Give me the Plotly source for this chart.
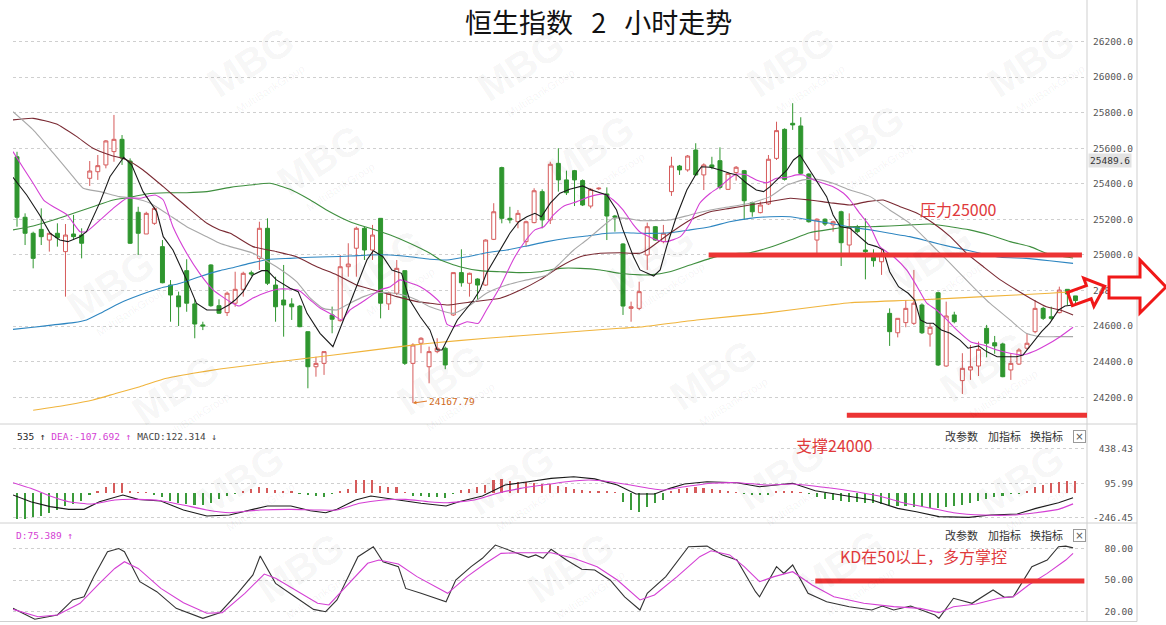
import math
import plotly.graph_objects as go

# ---------------- data ----------------
OPEN = [25552,25212,25122,25144,25084,25122,25019,25118,25112,25431,
        25468,25506,25581,25650,25528,25240,25118,25178,25047,24831,
        24770,24912,24725,24607,24944,24715,24676,24729,24807,24900,
        24981,25150,24831,24747,24725,24713,24569,24372,24391,24663,
        24631,24934,25038,25150,25028,25206,24725,24785,24912,24391,
        24504,24372,24457,24476,24663,24901,24841,24865,24831,25088,
        25491,25206,25187,25075,25182,25356,25197,25515,25422,25474,
        25418,25275,25372,25343,25219,25062,24700,24700,25000,25159,
        25075,25356,25500,25478,25590,25450,25506,25530,25369,25463,
        25474,25294,25238,25287,25543,25706,25740,25725,25455,25084,
        25201,25169,25243,25056,25159,25028,24990,24962,24672,24563,
        24620,24616,24719,24556,24788,24376,24663,24294,24354,24376,
        24588,24507,24500,24354,24387,24476,24569,24700,24653,24676,
        24807,24770]
HIGH = [25580,25234,25131,25262,25122,25178,25174,25225,25150,25528,
        25562,25646,25787,25674,25543,25271,25243,25271,25084,24859,
        24794,24976,24751,24625,24948,24751,24794,24906,24906,24912,
        25187,25206,24878,24944,24757,24719,24569,24428,24457,24710,
        25000,25066,25159,25159,25169,25206,24794,24972,24912,24504,
        24538,24485,24532,24485,24901,25032,24901,24869,25088,25291,
        25496,25271,25253,25193,25375,25369,25524,25600,25474,25478,
        25425,25375,25380,25380,25225,25066,24738,24850,25182,25163,
        25169,25552,25506,25562,25628,25515,25552,25605,25463,25500,
        25478,25300,25300,25562,25749,25712,25853,25774,25459,25206,
        25206,25193,25249,25234,25169,25206,25032,25032,24700,24644,
        24747,24916,24728,24616,24794,24738,24681,24448,24494,24513,
        24607,24545,24507,24448,24476,24560,24747,24709,24709,24822,
        24807,24770]
LOW = [25159,25056,24925,25056,25019,25047,24766,25084,24981,25388,
       25422,25487,25524,25506,25062,25000,25118,25169,24841,24625,
       24601,24681,24532,24578,24709,24670,24657,24709,24766,24882,
       24916,24831,24625,24541,24635,24594,24251,24316,24326,24560,
       24625,24878,24878,24972,24972,24644,24691,24775,24382,24167.79,
       24448,24279,24448,24358,24657,24822,24766,24747,24826,25084,
       25178,25178,25150,25047,25178,25150,25174,25356,25337,25275,
       25275,25262,25365,25084,25131,24663,24625,24690,24916,25080,
       25066,25332,25450,25468,25444,25365,25482,25369,25365,25418,
       25197,25215,25234,25281,25534,25418,25703,25450,25182,25009,
       25163,25131,24938,25009,25122,24863,24934,24888,24489,24537,
       24594,24607,24556,24485,24376,24372,24616,24219,24298,24320,
       24425,24445,24313,24298,24382,24466,24560,24635,24635,24672,
       24719,24728]
CLOSE = [25212,25122,24981,25103,25122,25097,25112,25103,25066,25472,
         25502,25641,25650,25545,25066,25122,25234,25262,24844,24775,
         24709,24729,24612,24601,24715,24673,24785,24807,24897,24893,
         25150,24841,24709,24719,24709,24597,24372,24391,24457,24639,
         24934,24949,25150,25028,25112,24729,24785,24925,24391,24494,
         24532,24457,24476,24382,24901,24844,24897,24831,25084,25243,
         25206,25197,25234,25187,25361,25197,25510,25422,25350,25422,
         25281,25369,25375,25219,25212,24713,24709,24794,25159,25084,
         25122,25500,25478,25556,25450,25506,25493,25380,25459,25493,
         25305,25243,25281,25538,25699,25425,25731,25459,25187,25201,
         25174,25187,25069,25159,25131,25019,24968,25009,24569,24644,
         24700,24729,24563,24594,24382,24657,24625,24363,24372,24470,
         24504,24489,24316,24391,24466,24504,24700,24644,24644,24803,
         24781,24744]
IDX = list(range(len(CLOSE)))

MA5_X = [-0.5,1.2,2.8,4.1,5.3,6.3,7.8,8.6,10.3,11.5,13.2,14.2,15.6,17.3,18.1,19.3,21,22.2,23.5,25.1,
         26.2,27,28,29.2,30.3,31,32.1,33.8,34.8,35.9,37.5,39.1,40.4,42,43.3,44.1,45.3,46.4,47.6,48.6,
         49.9,51.1,52,52.6,54.5,56.5,57.3,58.1,59.8,61,62.1,63.1,64.1,64.9,66,67.2,68.4,70,71.1,73,
         74.2,75,76.3,77.1,78.8,79.6,80.4,81.6,82.9,84.1,84.7,85.8,87,88.2,89.1,90.3,91.5,92.4,93.2,94.2,
         95.3,96.1,96.9,97.7,98.9,100.2,101,101.9,103.1,104.3,105.3,106.4,107.2,108,109.1,110.3,111.1,111.8,112.6,113.4,
         114.4,115.5,116.7,117.7,119,120,121.3,122.5,123.7,124.5,125.6,126.8,127.8,128.9,129.7,130.7]
MA5_V = [25437,25337,25225,25122,25084,25075,25103,25131,25300,25440,25549,25506,25356,25243,25103,25028,24860,24729,24691,24691,
         24719,24747,24794,24888,24912,24912,24860,24813,24794,24672,24560,24485,24635,24822,24972,25024,24990,24916,24897,24747,
         24653,24579,24466,24466,24635,24747,24803,24897,25028,25122,25187,25215,25234,25215,25291,25347,25369,25388,25365,25337,
         25253,25141,24990,24916,24882,24916,25047,25215,25365,25459,25496,25493,25478,25459,25450,25403,25365,25356,25384,25431,
         25478,25534,25562,25506,25422,25328,25225,25159,25150,25103,25062,25047,25028,24906,24822,24785,24747,24635,24616,24616,
         24579,24560,24522,24476,24489,24457,24428,24428,24428,24438,24504,24569,24616,24691,24713,24719]

MA10_X = [-0.5,0.8,2,3.3,4.5,6.2,7.8,8.6,10.3,11.9,13.6,15.2,17.1,18.1,19.3,21,22.6,24.3,26.4,27.5,
          29.2,31,32.5,34.8,36.3,37.5,39.1,40.2,41.2,42.5,43.7,44.9,46.2,47.4,48.6,49.9,51.1,52.4,53.2,54,
          55.7,57.1,58.1,59.8,61.4,62.7,64.1,65.2,66.4,67.7,69.3,70.9,72.6,73.8,75,76.3,77.1,79.2,80.4,82.1,
          83.3,84.5,85.8,87,88.2,89.1,90.3,91.5,92.8,94,95.3,96.5,97.3,98.6,99.8,101,102.3,103.1,104.3,105.6,
          106.8,108.5,110.1,111.4,112.6,113.8,115.1,116.3,118,119.6,121.3,122.9,124.5,125.8,127.4,129.1,130.7]
MA10_V = [25581,25487,25403,25309,25271,25225,25131,25131,25197,25262,25319,25319,25337,25309,25159,25010,24897,24803,24736,24713,
          24758,24792,24809,24803,24747,24702,24663,24635,24691,24729,24766,24803,24822,24860,24844,24822,24785,24729,24612,24597,
          24625,24616,24691,24822,24972,25066,25141,25159,25225,25275,25300,25328,25343,25309,25253,25169,25129,25084,25075,25103,
          25178,25291,25347,25384,25431,25455,25450,25422,25406,25431,25437,25450,25450,25422,25403,25384,25347,25309,25234,25159,
          25047,24990,24916,24822,24729,24691,24635,24579,24513,24494,24466,24448,24438,24457,24494,24541,24594]

MA20_X = [-0.5,2,4.5,6.6,8.2,10.3,12.7,14.4,16.5,18.5,21,23.5,25.1,26.4,29.2,32.1,34.6,36.3,37.9,39.6,
          41.2,42.9,44.5,46.2,47.8,49.5,51.1,54,56.1,58.1,60.6,63.1,65.6,67.2,68.9,70.5,72.2,73.8,75.5,77.1,
          78.3,80.8,83.3,85.8,88.2,90.7,93.2,95.3,97.3,99,101,103.1,105.6,108,110.5,113,115.5,117.9,120.4,122.9,
          124.9,126.6,128.7,130.7]
MA20_V = [25805,25703,25572,25459,25375,25356,25328,25319,25291,25234,25159,25103,25066,25047,25010,24934,24850,24757,24700,24691,
          24729,24766,24788,24788,24775,24747,24709,24672,24719,24785,24831,24860,24888,24953,25028,25084,25150,25206,25206,25193,
          25193,25197,25225,25253,25271,25291,25328,25393,25422,25425,25403,25365,25328,25253,25178,25066,24953,24841,24729,24635,
          24560,24541,24541,24541]

MA30_X = [-0.5,2,4.9,7.4,9.4,11.5,13.6,15.6,18.1,21,23.5,25.1,26.4,29.2,32.1,34.6,37.1,39.6,42,44.5,
          47,49.5,51.1,53.2,56.5,59.8,62.3,64.7,67.2,69.7,72.2,74.6,77.1,78.3,80.8,83.3,85.8,88.2,90.7,93.2,
          95.7,98.1,100.6,103.1,105.2,107.2,109.3,111.4,113.4,115.5,117.5,119.6,121.7,123.7,125.4,127.4,129.1,130.7]
MA30_V = [25759,25768,25736,25665,25600,25562,25534,25478,25384,25271,25178,25141,25122,25047,25019,24990,24934,24888,24831,24799,
          24766,24738,24729,24719,24738,24757,24803,24860,24934,24990,25010,25013,25010,25038,25122,25197,25243,25262,25281,25300,
          25319,25309,25294,25281,25300,25309,25271,25234,25178,25103,25010,24934,24860,24803,24757,24709,24691,24663]

MA60_X = [-0.5,2,4.5,7,9.4,11.9,14,16,18.5,21,23.5,26.4,28.8,31.3,33.8,36.3,38.7,41.2,43.7,46.2,
          48.6,51.1,52.4,54.8,57.3,59.8,62.3,64.7,67.2,69.7,72.2,74.6,77.1,78.3,80.8,83.3,85.8,88.2,90.7,93.2,
          95.7,98.1,100.6,103.1,105.6,108,110.5,113,115.5,117.9,120.4,122.9,125.4,127.4,129,130.7]
MA60_V = [25141,25163,25197,25234,25271,25309,25324,25343,25350,25350,25356,25380,25393,25403,25369,25309,25243,25187,25150,25112,
          25066,25010,24972,24934,24912,24906,24901,24906,24925,24925,24916,24897,24888,24888,24906,24944,24981,25006,25013,25043,
          25084,25125,25144,25159,25159,25163,25169,25174,25159,25141,25112,25075,25047,25010,24994,24983]

MA120_X = [-0.5,2,4.5,7,8.6,10.3,12.7,15.2,17.7,20.2,22.6,25.1,26.4,28.8,31.3,33.8,36.3,38.7,41.2,43.7,
           46.2,48.6,51.1,53.2,55.7,58.1,60.6,63.1,65.6,68.1,70.5,73,75.5,77.1,80.8,83.3,85.8,88.2,90.7,93.2,
           95.7,98.1,100.6,103.1,105.6,108,110.5,113,115.5,117.9,119.2,121.7,124.9,127.8,130.7]
MA120_V = [24582,24594,24607,24620,24635,24672,24729,24775,24813,24841,24878,24912,24925,24953,24976,24981,24987,24990,24994,25000,
           25000,24990,24976,24972,24990,25013,25028,25051,25075,25094,25107,25122,25125,25122,25125,25141,25159,25187,25206,25215,
           25215,25197,25178,25157,25141,25122,25103,25075,25047,25024,25010,24987,24981,24968,24953]

MA250_X = [2,6.2,9.4,12.3,15.2,18.5,21.8,25.1,31,39.2,47.4,51.1,58.1,66.4,74.6,77.1,84.1,92.4,100.6,103.1,
           111.4,119.6,127.8,130.7]
MA250_V = [24127,24157,24185,24223,24260,24307,24335,24359,24393,24438,24485,24504,24532,24560,24588,24595,24635,24672,24719,24732,
           24747,24766,24785,24794]

MACD_HIST = [-257,-254,-238,-228,-198,-168,-129,-109,-79,-20,
             13,62,96,96,23,5,3,-10,-40,-80,
             -100,-110,-120,-115,-100,-60,-25,-8,10,40,
             60,50,30,15,10,-3,-20,-30,-40,-3,
             10,40,129,130,130,70,60,60,5,-30,
             -30,-40,-40,-45,-5,30,40,60,80,130,
             140,120,110,110,100,90,90,70,60,40,
             30,20,20,15,3,-86,-168,-185,-135,-99,
             -66,20,40,50,60,50,40,30,20,3,
             -3,-10,-15,-20,10,12,15,3,-3,-40,
             -60,-70,-80,-85,-90,-95,-100,-110,-120,-125,
             -130,-135,-140,-145,-148,-140,-130,-115,-100,-80,
             -60,-40,-25,-5,-3,10,60,80,100,110,
             120,122.314]
DIF_X = [-0.5,1.7,4.1,6.4,8.3,10.2,13.1,15,17.8,20.6,23.5,26.3,29.2,31,33.9,36.3,38.2,39.6,41.9,43.8,
         47.2,50,53.1,54.7,57.6,60.4,63.3,66.1,68.9,71.5,74.3,76.6,78.9,80.8,82.6,85.4,89.1,91.9,96,98.8,
         102,105.8,109,111.3,114.1,117.8,120.5,123.8,126.1,128.9,130.7]
DIF_V = [-20,-86,-135,-162,-162,-86,-20,-63,-79,-168,-228,-218,-162,-129,-129,-175,-195,-162,-69,-30,
         -69,-102,-129,-86,-30,79,112,145,161,140,79,-10,-10,46,89,112,102,62,96,23,
         -20,-69,-152,-185,-234,-241,-218,-208,-152,-96,-46.535]
DEA_X = [-0.5,1.7,4.1,6.4,9.3,12.1,15,17.8,20.6,23.5,26.3,30.1,33.9,37.2,39.6,42.4,45.3,48.1,50.9,53.3,
         56.6,59.5,62.3,65.1,68,70.8,73.4,76.6,79.9,82.6,85.9,89.1,92.8,96,99.3,103,106.7,109.9,113.2,115.9,
         119.6,123.3,126.1,128.9,130.7]
DEA_V = [102,46,-30,-86,-109,-69,-63,-76,-119,-168,-195,-168,-162,-168,-168,-102,-69,-63,-86,-96,
         -69,-3,46,79,112,128,112,69,30,62,96,102,79,89,62,23,-30,-102,-152,-195,
         -218,-218,-195,-162,-107.692]

K_X = [-0.5,2.2,5,6.9,8.3,9.5,11.2,12.6,13.3,15.2,17.3,19.7,23,25.1,27.3,29.2,30.1,32,34.4,36.7,
       38.2,39.6,41,42.2,44.1,45.3,47.2,48.1,50,53.1,54.3,56.2,57.6,59.2,61.4,63.3,64.2,65.1,66.1,68,
       69.9,71.5,73.4,75.2,77.1,78,80.3,83.1,85.4,87.3,89.1,91.4,91.9,94,94.9,96,97.9,100.2,103,105.8,
       107.1,108.5,110.6,111.8,113.6,114.1,115.9,118.2,120.8,122.2,123.3,125.6,127.5,128.9,129.8,130.7]
K_V = [23,12.6,16.7,31,34,53,77,80,77,48.4,38.9,23,13.5,18.9,37.3,54.8,72.9,46.8,34.1,22,
       19.8,31,53.2,72.2,81.7,67.4,62.7,42,37.3,29.3,50,62.7,70.7,83.3,77,71.6,73.9,70.7,79.2,69,
       60.2,59.5,50,34,21.4,37.3,53.2,81.7,82.3,73.8,69.1,38.9,34,62.7,56.3,64.3,37.3,29.3,24.6,21.4,
       25.2,21.4,25.2,22,16.7,13.5,32.6,27.8,40.5,33.5,34,62.7,69,81.7,82.3,80.6]
D_X = [-0.5,2.6,5,7.8,10.2,12.1,13.3,15,17.8,20.6,23.5,25.4,28.2,30.6,32,34.8,37.2,38.6,40.5,43.4,
       44.8,47.2,49.5,53.3,55.7,58,59.9,62.3,66.1,68.9,71.8,74.3,77.1,78.9,81.7,84.5,85.9,88.2,90,91.9,
       93.7,96,98.4,101.1,104.8,108.5,111.8,114.1,115.9,118.7,121.5,123.3,125.2,127.5,129.8,130.7]
D_V = [22,15,16.7,27.8,46.8,61,67.4,61,42,28.4,18.3,18.9,37.3,55.7,51.6,38.9,27.8,26.2,42,65.9,
       69,65.2,53.2,37.3,53.2,65.9,75.4,76,76,70.7,62.7,50,31,35.7,53.2,72.2,77.9,73.9,62.7,48.4,
       53.2,57.9,45.2,34,27.8,24.6,23,18.9,24.6,27.2,32.6,34,45.2,56.3,69,75.389]

PRICE_TICKS = [24200, 24400, 24600, 24800, 25000, 25200, 25400, 25600, 25800, 26000, 26200]
MACD_TICKS = [438.43, 95.99, -246.45]
KD_TICKS = [80, 50, 20]
RESIST_LEVEL, RESIST_FROM = 25000, 85.6
SUPPORT_LEVEL, SUPPORT_FROM = 24100, 102.7
KD_LEVEL, KD_FROM = 49, 98.8
LOW_MARK = 24167.79
LAST_LABEL = "25489.6"
LAST_D = 75.389
LAST_DEA, LAST_MACD = -107.692, 122.314
DIF_TAIL = "535"

# ---------------- geometry helpers ----------------
W, H = 1166, 625
PL, PR, PT, PB = 13, 79, 0, 3
PW, PH = W - PL - PR, H - PT - PB
def px(x): return (x - PL) / PW
def py(y): return 1 - (y - PT) / PH

UP, DN = "#d65b5b", "#2f962f"
MAG = "#d43fd4"
REDL = "#ec3434"
MONO = "DejaVu Sans Mono"
CJK = "Noto Sans CJK SC"

fig = go.Figure()

fig.add_trace(go.Candlestick(
    x=IDX, open=OPEN, high=HIGH, low=LOW, close=CLOSE,
    increasing=dict(line=dict(color=UP, width=1), fillcolor="white"),
    decreasing=dict(line=dict(color=DN, width=1), fillcolor=DN),
    whiskerwidth=0, showlegend=False, hoverinfo="skip", xaxis="x", yaxis="y"))

for xs, vs, col, shp in [(MA250_X, MA250_V, "#f0b43c", "spline"),
                         (MA120_X, MA120_V, "#2e86c1", "spline"),
                         (MA60_X, MA60_V, "#3f8f3f", "spline"),
                         (MA30_X, MA30_V, "#7a2a33", "spline"),
                         (MA20_X, MA20_V, "#a8a8a8", "spline"),
                         (MA10_X, MA10_V, MAG, "spline"),
                         (MA5_X, MA5_V, "#1a1a1a", "linear")]:
    fig.add_trace(go.Scatter(x=xs, y=vs, mode="lines", line=dict(color=col, width=1.1, shape=shp, smoothing=0.5),
                             showlegend=False, hoverinfo="skip", xaxis="x", yaxis="y"))

# MACD
fig.add_trace(go.Bar(x=IDX, y=MACD_HIST, width=0.2,
                     marker=dict(color=[UP if v >= 0 else "#3a9a3a" for v in MACD_HIST], line=dict(width=0)),
                     showlegend=False, hoverinfo="skip", xaxis="x", yaxis="y2"))
fig.add_trace(go.Scatter(x=DIF_X, y=DIF_V, mode="lines", line=dict(color="#1a1a1a", width=1.1),
                         showlegend=False, hoverinfo="skip", xaxis="x", yaxis="y2"))
fig.add_trace(go.Scatter(x=DEA_X, y=DEA_V, mode="lines", line=dict(color=MAG, width=1.1, shape="spline", smoothing=0.5),
                         showlegend=False, hoverinfo="skip", xaxis="x", yaxis="y2"))
# KD
fig.add_trace(go.Scatter(x=K_X, y=K_V, mode="lines", line=dict(color="#333333", width=1.1),
                         showlegend=False, hoverinfo="skip", xaxis="x", yaxis="y3"))
fig.add_trace(go.Scatter(x=D_X, y=D_V, mode="lines", line=dict(color=MAG, width=1.1),
                         showlegend=False, hoverinfo="skip", xaxis="x", yaxis="y3"))

# ---------------- layout ----------------
x0 = (PL - 17) / 8.08
xr = [x0, x0 + PW / 8.08]
d1 = 1 - 424 / PH
d2 = 1 - 523 / PH
yax_common = dict(side="right", showgrid=True, gridcolor="#cfcfcf", griddash="dot", gridwidth=1,
                  zeroline=False, ticks="", showline=False, fixedrange=True,
                  tickfont=dict(family=MONO, size=9.5, color="#555"), ticklabelstandoff=5)

def pad(s, n=7): return "\u00a0" * (n - len(s)) + s

fig.update_layout(
    width=W, height=H, margin=dict(l=PL, r=PR, t=PT, b=PB),
    paper_bgcolor="white", plot_bgcolor="white", showlegend=False, bargap=0,
    xaxis=dict(range=xr, visible=False, rangeslider=dict(visible=False), fixedrange=True),
    yaxis=dict(domain=[d1, 1], range=[24050.2, 26433], tickvals=PRICE_TICKS,
               ticktext=[f"{v}.0" for v in PRICE_TICKS], **yax_common),
    yaxis2=dict(domain=[d2, d1], range=[-297, 683.1], tickvals=MACD_TICKS,
                ticktext=[pad(f"{v:.2f}") for v in MACD_TICKS], **yax_common),
    yaxis3=dict(domain=[0, d2], range=[10.0, 104.3], tickvals=KD_TICKS,
                ticktext=[pad(f"{v:.2f}") for v in KD_TICKS], **yax_common),
)

shapes = []
for yy in (424, 523, 621.5):
    shapes.append(dict(type="line", xref="paper", yref="paper", x0=px(0), x1=px(1137), y0=py(yy), y1=py(yy),
                       line=dict(color="#d0d0d0", width=1)))
for xx in (1087, 1137):
    shapes.append(dict(type="line", xref="paper", yref="paper", x0=px(xx), x1=px(xx), y0=py(0), y1=py(621.5),
                       line=dict(color="#cfcfcf", width=1)))
shapes.append(dict(type="line", xref="x", yref="y", x0=RESIST_FROM, x1=IDX[-1] + 0.8, y0=RESIST_LEVEL, y1=RESIST_LEVEL,
                   line=dict(color=REDL, width=5), layer="above"))
shapes.append(dict(type="line", xref="x", yref="y", x0=SUPPORT_FROM, x1=xr[1], y0=SUPPORT_LEVEL, y1=SUPPORT_LEVEL,
                   line=dict(color=REDL, width=5), layer="above"))
shapes.append(dict(type="line", xref="x", yref="y3", x0=KD_FROM, x1=IDX[-1] + 1.1, y0=KD_LEVEL, y1=KD_LEVEL,
                   line=dict(color=REDL, width=5), layer="above"))

def path_of(pts):
    return "M " + " L ".join(f"{px(a):.5f},{py(b):.5f}" for a, b in pts) + " Z"

big_arrow = [(1109, 277), (1140, 277), (1140, 260), (1166, 287), (1140, 313), (1140, 298), (1109, 298)]
shapes.append(dict(type="path", xref="paper", yref="paper", path=path_of(big_arrow),
                   line=dict(color="#f01818", width=3), fillcolor="white", layer="above"))
tx, ty, th = 1070, 299, math.radians(20)
dx, dy = math.cos(th), -math.sin(th)
nx, ny = -math.sin(th), -math.cos(th)
def P(a, b): return (tx + a * dx + b * nx, ty + a * dy + b * ny)
small_arrow = [P(0, 7), P(20, 7), P(20, 15), P(37, 0), P(20, -15), P(20, -7), P(0, -7)]
shapes.append(dict(type="path", xref="paper", yref="paper", path=path_of(small_arrow),
                   line=dict(color="#f01818", width=3), fillcolor="rgba(0,0,0,0)", layer="above"))
fig.update_layout(shapes=shapes)

def pa(x, y, text, size, color, family, xanchor="center", **kw):
    d = dict(xref="paper", yref="paper", x=px(x), y=py(y), text=text, showarrow=False,
             xanchor=xanchor, yanchor="middle", font=dict(family=family, size=size, color=color))
    d.update(kw)
    return d

ann = []
# faint background watermarks (kept fully inside the picture)
WM = [(250, 62), (520, 66), (790, 62), (1030, 62), (320, 160), (590, 150), (860, 140),
      (110, 285), (380, 265), (650, 260), (928, 260), (175, 390), (440, 380), (713, 375), (983, 367),
      (240, 480), (510, 480), (780, 475), (1020, 480), (300, 568), (570, 568), (840, 565)]
for cx, cy in WM:
    ann.append(pa(cx, cy, "<b>MBG</b>", 40, "rgba(0,0,0,0.05)", "Liberation Sans", textangle=-33))
    ann.append(pa(cx + 20, cy + 27, "MultiBankGroup", 11, "rgba(0,0,0,0.05)", "Liberation Sans", textangle=-33))

NB = "\u00a0"
ann.append(pa(598, 22, f"恒生指数{NB*3}2{NB*3}小时走势", 27, "#111", CJK))
ann.append(pa(958, 209, "压力25000", 16, "#e0393b", CJK))
ann.append(pa(834, 445, "支撑24000", 16, "#e0393b", CJK))
ann.append(pa(923, 556, "KD在50以上，多方掌控", 16, "#e0393b", CJK))
ann.append(dict(xref="x", yref="y", x=IDX[LOW.index(LOW_MARK)], y=LOW_MARK, text=f"{LOW_MARK:.2f}",
                showarrow=True, arrowhead=2, arrowsize=0.7, arrowwidth=1, arrowcolor="#e07a2a",
                ax=14, ay=-2, xanchor="left", yanchor="middle", font=dict(family=MONO, size=9.5, color="#d06a20")))
ann.append(pa(1132, 160, LAST_LABEL, 9.5, "#333", MONO, xanchor="right", bgcolor="#e3e3e3", borderpad=1))
# panel headers
macd_txt = (f'<span style="color:#222">{DIF_TAIL} ↑ </span>'
            f'<span style="color:{MAG}">DEA:{LAST_DEA:.3f} ↑ </span>'
            f'<span style="color:#444">MACD:{LAST_MACD:.3f} ↓</span>')
ann.append(pa(15, 436, macd_txt, 9.5, "#222", MONO, xanchor="left"))
ann.append(pa(14, 535, f"D:{LAST_D:.3f} ↑", 9.5, MAG, MONO, xanchor="left"))
for yy in (436, 535):
    for cx, t in [(961, "改参数"), (1004, "加指标"), (1046, "换指标")]:
        ann.append(pa(cx, yy, t, 11, "#333", CJK))
    ann.append(pa(1079, yy, "×", 10, "#555", "DejaVu Sans", bordercolor="#9a9a9a", borderwidth=1,
                  borderpad=0, width=11, height=11))
fig.update_layout(annotations=ann)

fig.write_html("out.html", config={"displayModeBar": False},
               post_script="document.body.style.margin='0';document.body.style.padding='0';")
